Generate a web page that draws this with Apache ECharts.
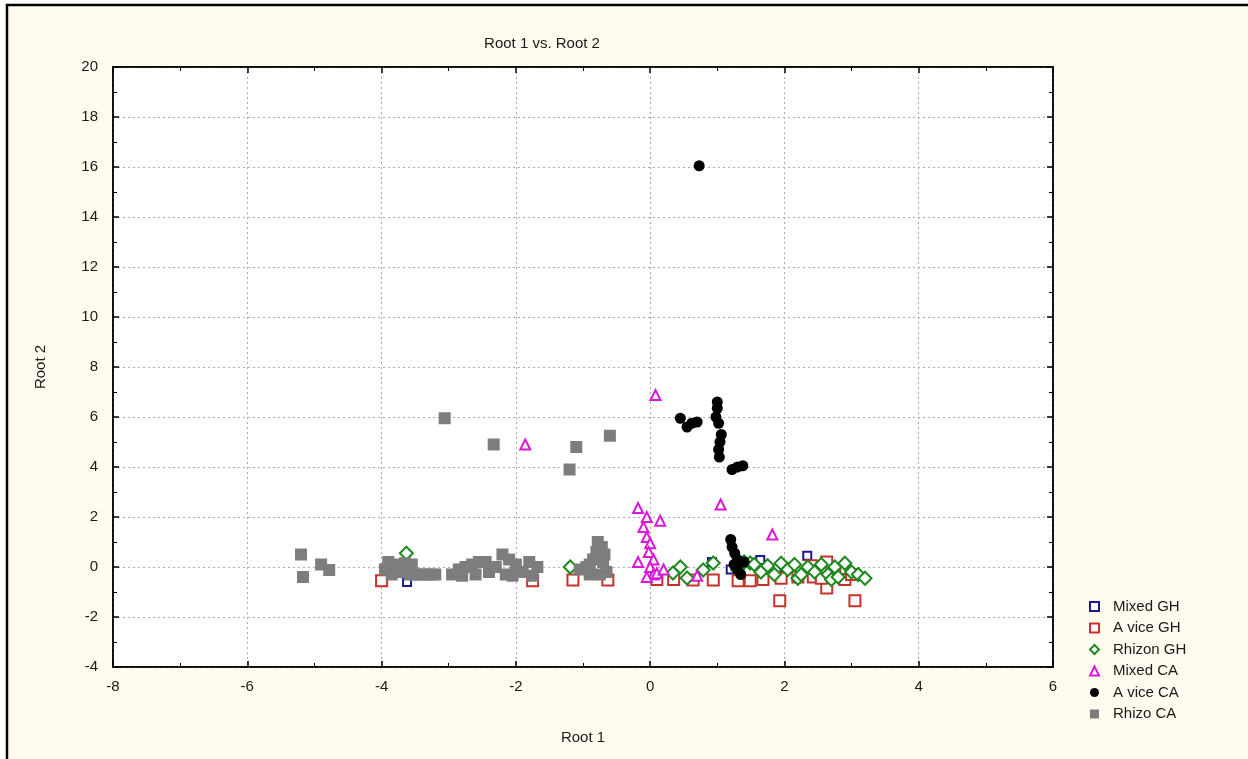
<!DOCTYPE html>
<html>
<head>
<meta charset="UTF-8">
<title>Root 1 vs. Root 2</title>
<script type="text/javascript" src="https://cdn.jsdelivr.net/npm/echarts@6/dist/echarts.min.js"></script>
<style>
  html, body { margin:0; padding:0; background:#fff; }
</style>
</head>
<body>
	<div id="box" style="width:1248px;height:759px;"></div>
	<script type="text/javascript">
		// series values: [root1, root2]
		var mixedGH = [[-3.62,-0.6],[0.92,0.2],[1.53,0.16],[1.64,0.28],[2.34,0.45],[2.0,0.0],[1.2,-0.1]];
		var aviceGH = [[-4.0,-0.55],[-1.75,-0.55],[-1.15,-0.52],[-0.63,-0.52],[0.1,-0.5],[0.35,-0.5],[0.64,-0.52],
			[0.94,-0.52],[1.31,-0.55],[1.49,-0.55],[1.68,-0.5],[1.93,-1.35],[1.95,-0.45],[2.2,-0.4],[2.43,-0.4],
			[2.63,0.2],[2.63,-0.84],[2.4,0.05],[2.75,-0.25],[2.9,-0.5],[3.05,-1.35],[2.55,-0.45],[3.0,-0.3]];
		var rhizonGH = [[-3.63,0.55],[-1.19,0.0],[0.34,-0.24],[0.45,0.0],[0.55,-0.44],[0.79,-0.12],[0.94,0.16],
			[1.3,-0.1],[1.4,0.2],[1.49,0.16],[1.55,0.1],[1.65,-0.2],[1.75,0.05],[1.85,-0.3],[1.95,0.15],[2.05,-0.1],
			[2.15,0.1],[2.2,-0.45],[2.25,-0.3],[2.35,0.0],[2.45,-0.2],[2.55,0.1],[2.65,-0.3],[2.7,-0.5],[2.75,0.0],
			[2.8,-0.4],[2.9,0.15],[3.0,-0.2],[3.1,-0.3],[3.2,-0.45]];
		var mixedCA = [[-1.86,4.9],[0.08,6.88],[1.05,2.5],[1.82,1.3],[-0.18,2.36],[-0.05,2.0],[0.15,1.85],
			[-0.1,1.6],[-0.05,1.2],[0.0,0.95],[-0.02,0.6],[-0.18,0.2],[0.05,0.3],[0.0,0.0],[0.05,-0.3],
			[0.1,-0.25],[0.2,-0.1],[0.7,-0.35],[-0.05,-0.4]];
		var aviceCA = [[0.73,16.05],[0.45,5.95],[0.55,5.6],[0.62,5.75],[0.7,5.8],[1.0,6.6],[1.0,6.35],[0.98,6.0],
			[1.02,5.75],[1.06,5.3],[1.04,5.0],[1.02,4.7],[1.03,4.4],[1.22,3.9],[1.3,4.0],[1.38,4.05],
			[1.2,1.1],[1.22,0.8],[1.26,0.55],[1.3,0.3],[1.25,0.1],[1.3,-0.1],[1.35,-0.3],[1.4,0.2]];
		var rhizoCA = [[-5.2,0.5],[-5.17,-0.4],[-4.9,0.1],[-4.78,-0.12],
			[-3.95,-0.1],[-3.9,0.2],[-3.85,-0.3],[-3.8,0.1],[-3.72,-0.2],[-3.65,0.15],[-3.58,-0.3],[-3.55,0.1],
			[-3.5,-0.3],[-3.42,-0.3],[-3.35,-0.3],[-3.27,-0.3],[-3.2,-0.3],
			[-2.95,-0.3],[-2.85,-0.1],[-2.8,-0.35],[-2.75,0.0],[-2.65,0.1],[-2.6,-0.3],[-2.55,0.2],[-2.45,0.2],
			[-2.4,-0.2],[-2.3,0.0],[-2.2,0.5],[-2.15,-0.3],[-2.1,0.3],[-2.05,-0.35],[-2.0,0.1],[-1.9,-0.2],
			[-1.8,0.2],[-1.75,-0.35],[-1.68,0.0],
			[-1.05,-0.1],[-0.95,0.0],[-0.9,-0.3],[-0.9,0.1],[-0.85,0.3],[-0.8,0.6],[-0.78,1.0],[-0.72,0.8],
			[-0.7,0.2],[-0.68,0.5],[-0.65,-0.2],[-0.75,-0.3],
			[-1.2,3.9],[-3.06,5.95],[-2.33,4.9],[-1.1,4.8],[-0.6,5.25]];

		var names = ['Mixed GH','A vice GH','Rhizon GH','Mixed CA','A vice CA','Rhizo CA'];
		var xTicks = {min:-8, max:6, interval:2};
		var yTicks = {min:-4, max:20, interval:2};

		var font = 'Liberation Sans, Arial, sans-serif';
		var mychart = echarts.init(document.getElementById('box'));

		function axis(t, pos, showLabel) {
			return {
				type:'value', position:pos, min:t.min, max:t.max, interval:t.interval,
				axisLine:{show:true, onZero:false, lineStyle:{color:'#000', width:1.5}},
				axisTick:{show:true, inside:true, length:6, lineStyle:{color:'#000', width:1.5}},
				minorTick:{show:true, splitNumber:2, length:4, lineStyle:{color:'#000', width:1}},
				axisLabel:{show:showLabel, color:'#1a1a1a', fontSize:15, fontFamily:font, margin:pos == 'left' ? 15 : 12},
				splitLine:{show:showLabel, lineStyle:{color:'#aaa', type:[2,3], width:1}}
			};
		}

		var xb = axis(xTicks, 'bottom', true);
		xb.name = 'Root 1'; xb.nameLocation = 'middle'; xb.nameGap = 63;
		xb.nameTextStyle = {color:'#1a1a1a', fontSize:15, fontFamily:font};
		var yl = axis(yTicks, 'left', true);
		yl.name = 'Root 2'; yl.nameLocation = 'middle'; yl.nameGap = 65;
		yl.nameTextStyle = {color:'#1a1a1a', fontSize:15, fontFamily:font};

		function ser(name, data, symbol, size, color, z) {
			return {
				name:name, type:'scatter', data:data, symbol:symbol, symbolSize:size, z:z,
				itemStyle:{color:color, borderWidth:1.5, opacity:1}
			};
		}

		var option = {
			animation:false,
			backgroundColor:'#fff',
			graphic:[{
				type:'rect', z:-10, silent:true,
				shape:{x:7, y:5, width:1300, height:800},
				style:{fill:'#fffbef', stroke:'#000', lineWidth:2.5}
			}],
			title:{
				text:'Root 1 vs. Root 2', left:537, top:31, textAlign:'center',
				textStyle:{color:'#1a1a1a', fontSize:15, fontWeight:'normal', fontFamily:font}
			},
			legend:{
				data:names, orient:'vertical', left:1084, top:594,
				itemWidth:9, itemHeight:9, itemGap:6.5,
				textStyle:{color:'#1a1a1a', fontSize:15, fontFamily:font, padding:[0,0,0,9]}
			},
			grid:{left:113, top:67, width:940, height:600, show:true, backgroundColor:'#fff', borderColor:'#000', borderWidth:1.5},
			xAxis:[xb, axis(xTicks, 'top', false)],
			yAxis:[yl, axis(yTicks, 'right', false)],
			series:[
				ser(names[0], mixedGH, 'emptyRect', 8, '#1a1a8c', 2),
				ser(names[1], aviceGH, 'emptyRect', 11, '#c8322a', 3),
				ser(names[2], rhizonGH, 'emptyDiamond', 13, '#1e8a1e', 4),
				ser(names[3], mixedCA, 'emptyTriangle', 10, '#d81ad8', 5),
				ser(names[4], aviceCA, 'circle', 11, '#000', 6),
				ser(names[5], rhizoCA, 'rect', 12, '#7d7d7d', 7)
			]
		};
		mychart.setOption(option);
	</script>
</body>
</html>
